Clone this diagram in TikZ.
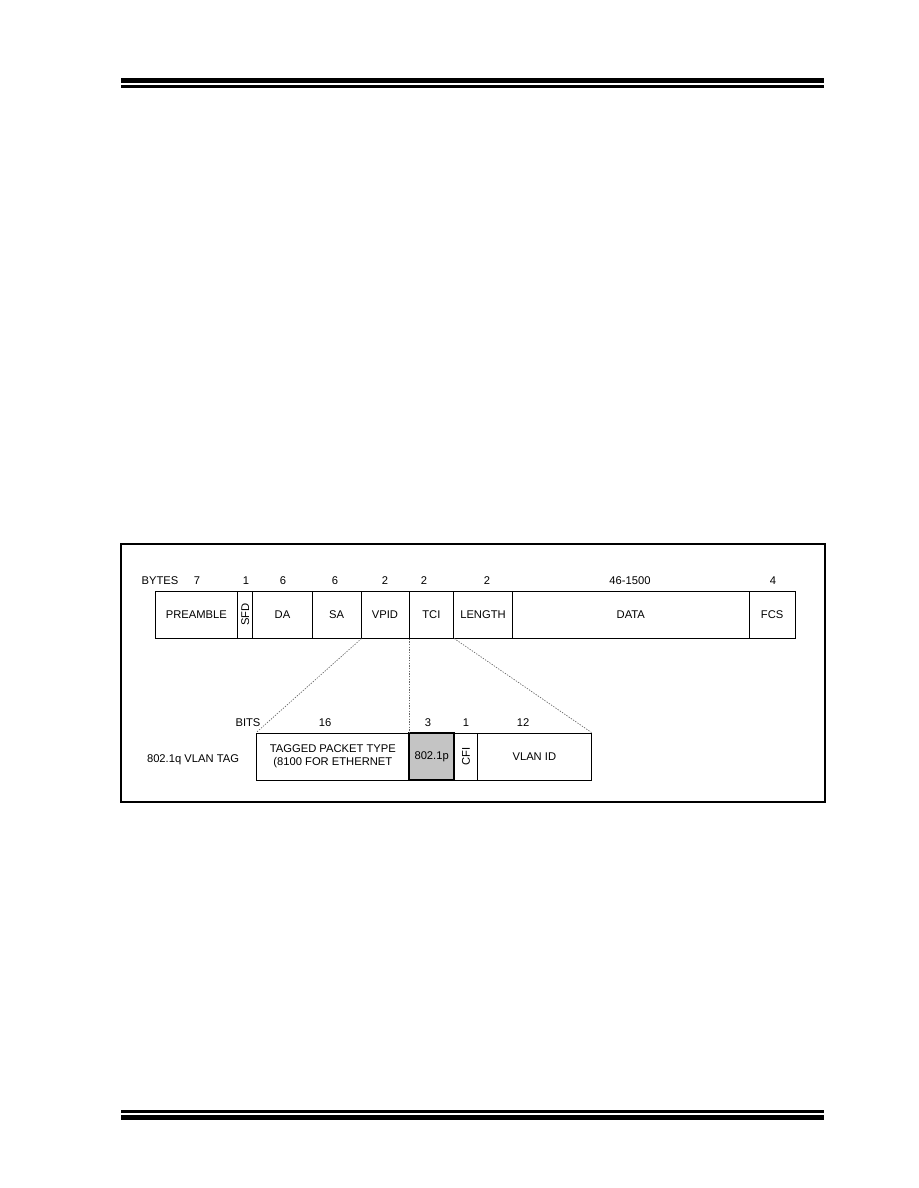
\documentclass[tikz,border=0pt]{standalone}
\usepackage{fontspec}
\setmainfont{Liberation Sans}
\usetikzlibrary{fit}
\begin{document}
\begin{tikzpicture}[x=0.75pt,y=-0.75pt,
  font=\fontsize{8.4}{10}\selectfont,
  cell/.style={draw, line width=0.75pt, inner sep=0pt},
  hicell/.style={cell, fill=black!23, line width=1.3pt},
  lbl/.style={inner sep=0pt},
  guide/.style={draw=black!60, line width=0.5pt, dash pattern=on 1pt off 1pt},
  bar/.style={fill=black}]
\useasboundingbox (0,0) rectangle (918,1188);
% page rules
\fill[bar] (121,78) rectangle (824,83);
\fill[bar] (121,85) rectangle (824,88);
\fill[bar] (121,1110) rectangle (824,1113);
\fill[bar] (121,1115) rectangle (824,1120);
% figure frame
\draw[line width=1pt] (121,544) rectangle (825,802);
\draw[line width=1pt] (121,801.5) -- (825,801.5);
% top row: Ethernet frame
\node[cell, fit={(155,591) (237.7,638)}] (pre) {};
\node[lbl] (pret) at (pre.center) {PREAMBLE};
\node[cell, fit={(237.7,591) (252.7,638)}] (sfd) {};
\node[lbl, rotate=90] (sfdt) at (sfd.center) {SFD};
\node[cell, fit={(252.7,591) (312.3,638)}] (da) {};
\node[lbl] (dat) at (da.center) {DA};
\node[cell, fit={(312.3,591) (361,638)}] (sa) {};
\node[lbl] (sat) at (sa.center) {SA};
\node[cell, fit={(361,591) (409,638)}] (vpid) {};
\node[lbl] (vpidt) at (vpid.center) {VPID};
\node[cell, fit={(409,591) (453.7,638)}] (tci) {};
\node[lbl] (tcit) at (tci.center) {TCI};
\node[cell, fit={(453.7,591) (512.3,638)}] (len) {};
\node[lbl] (lent) at (len.center) {LENGTH};
\node[cell, fit={(512.3,591) (749.3,638)}] (data) {};
\node[lbl] (datat) at (data.center) {DATA};
\node[cell, fit={(749.3,591) (795,638)}] (fcs) {};
\node[lbl] (fcst) at (fcs.center) {FCS};
% byte counts
\node[lbl] (bytes) at (160,581) {BYTES};
\node[lbl] (b1) at (197,581) {7};
\node[lbl] (b2) at (246,581) {1};
\node[lbl] (b3) at (283,581) {6};
\node[lbl] (b4) at (335,581) {6};
\node[lbl] (b5) at (385,581) {2};
\node[lbl] (b6) at (424,581) {2};
\node[lbl] (b7) at (487,581) {2};
\node[lbl] (b8) at (630,581) {46-1500};
\node[lbl] (b9) at (773,581) {4};
% bottom row: VLAN tag
\node[cell, fit={(256.7,733) (409,780)}] (tpt) {};
\node[lbl, align=center] (tptt) at (tpt.center) {TAGGED PACKET TYPE\\(8100 FOR ETHERNET};
\node[hicell, fit={(409,733) (454.3,780)}] (pcp) {};
\node[lbl] (pcpt) at (pcp.center) {802.1p};
\node[cell, fit={(454.3,733) (477.7,780)}] (cfi) {};
\node[lbl, rotate=90] (cfit) at (cfi.center) {CFI};
\node[cell, fit={(477.7,733) (591,780)}] (vid) {};
\node[lbl] (vidt) at (vid.center) {VLAN ID};
\node[lbl] (tag) at (193,760) {802.1q VLAN TAG};
% bit counts
\node[lbl] (bits) at (248,722.7) {BITS};
\node[lbl] (t1) at (325,722.7) {16};
\node[lbl] (t2) at (428,722.7) {3};
\node[lbl] (t3) at (466,722.7) {1};
\node[lbl] (t4) at (523,722.7) {12};
% expansion guides
\draw[guide] (sa.south east) -- (tpt.north west);
\draw[guide] (vpid.south east) -- (tpt.north east);
\draw[guide] (tci.south east) -- (vid.north east);
\end{tikzpicture}
\end{document}
